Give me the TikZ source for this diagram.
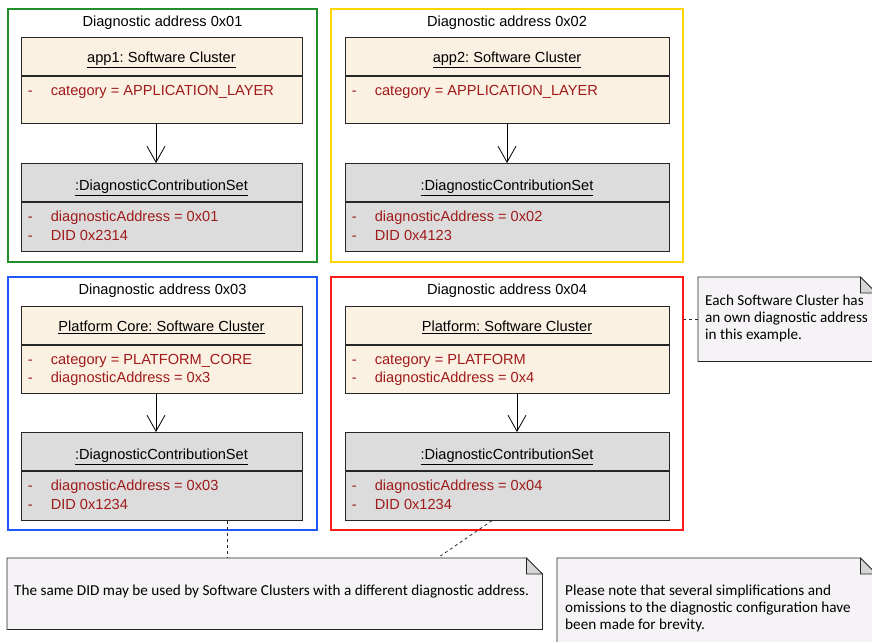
\documentclass[tikz,border=0pt]{standalone}
\usepackage{fontspec}
\setmainfont{Liberation Sans}
\newfontfamily\notefont{Carlito}
\usetikzlibrary{arrows.meta, positioning}
\frenchspacing
\definecolor{clsfill}{HTML}{FBF1E3}
\definecolor{dcsgray}{HTML}{DCDCDC}
\definecolor{attrred}{HTML}{A01A1A}
\definecolor{notebg}{HTML}{F6F3F6}
\definecolor{foldgray}{HTML}{D6D6D6}
\definecolor{grpgreen}{HTML}{22902A}
\definecolor{grpgold}{HTML}{FFD500}
\definecolor{grpblue}{HTML}{1F58FF}
\definecolor{grpred}{HTML}{FF1A1A}
\tikzstyle{every node}=[font=\fontsize{14.6}{18.5}\selectfont]
\tikzstyle{group}=[draw,rectangle,inner sep=0pt,line width=1.1pt]
\tikzstyle{grptitle}=[anchor=north,inner sep=0pt]
\tikzstyle{head}=[draw=black!85,fill=clsfill,rectangle,inner sep=0pt,line width=0.8pt,text height=14pt,text depth=2pt]
\tikzstyle{dcs}=[head,fill=dcsgray,text height=16pt,text depth=0pt]
\tikzstyle{attr}=[anchor=north west,inner sep=0pt,align=left,text=attrred]
\tikzstyle{note}=[rectangle,inner sep=0pt]
\tikzstyle{notetext}=[anchor=west,inner sep=0pt,align=left,font=\notefont\fontsize{15.2}{17}\selectfont]
\tikzstyle{link}=[draw=black!85,dash pattern=on 3pt off 3pt,line width=0.8pt]
\newcommand{\att}[1]{\makebox[23pt][l]{-}#1}
\newcommand{\noteshape}[1]{%
  \draw[fill=notebg,draw=black!85,line width=0.8pt] (#1.north west) -- ([xshift=-16pt]#1.north east)
    -- ([yshift=-16pt]#1.north east) -- (#1.south east) -- (#1.south west) -- cycle;
  \draw[fill=foldgray,draw=black!85,line width=0.8pt] ([xshift=-16pt]#1.north east)
    -- ([yshift=-16pt]#1.north east) -- ([xshift=-16pt,yshift=-16pt]#1.north east) -- cycle;}

\begin{document}
\begin{tikzpicture}[x=1pt,y=-1pt,>={Straight Barb[length=16pt,width=18pt]}]
    \useasboundingbox (0,0) rectangle (872,641);
    % address groups
    \node[group, draw=grpgreen, minimum width=309pt, minimum height=253pt] (g1) at (162.5,135.5) {};
    \node[group, draw=grpgold, minimum width=352pt, minimum height=253pt] (g2) at (507,135.5) {};
    \node[group, draw=grpblue, minimum width=309pt, minimum height=253pt] (g3) at (162.5,403.5) {};
    \node[group, draw=grpred, minimum width=352pt, minimum height=253pt] (g4) at (507,403.5) {};
    \node[grptitle, below=7.5pt of g1.north] (g1t) {Diagnostic address 0x01};
    \node[grptitle, below=7.5pt of g2.north] (g2t) {Diagnostic address 0x02};
    \node[grptitle, below=7.5pt of g3.north] (g3t) {Dinagnostic address 0x03};
    \node[grptitle, below=7.5pt of g4.north] (g4t) {Diagnostic address 0x04};
    % software clusters
    \node[head, minimum width=281pt, minimum height=38pt, anchor=north] (c1) at (161.5,37) {\underline{app1: Software Cluster}};
    \node[head, minimum width=281pt, minimum height=47pt, below=0pt of c1] (c1b) {};
    \node[attr] (c1a) at ([xshift=7pt,yshift=-9pt]c1b.north west) {\att{category = APPLICATION\_LAYER}};
    \node[head, minimum width=324pt, minimum height=38pt, anchor=north] (c2) at (507,37) {\underline{app2: Software Cluster}};
    \node[head, minimum width=324pt, minimum height=47pt, below=0pt of c2] (c2b) {};
    \node[attr] (c2a) at ([xshift=7pt,yshift=-9pt]c2b.north west) {\att{category = APPLICATION\_LAYER}};
    \node[head, minimum width=281pt, minimum height=38pt, anchor=north] (c3) at (161.5,306) {\underline{Platform Core: Software Cluster}};
    \node[head, minimum width=281pt, minimum height=48pt, below=0pt of c3] (c3b) {};
    \node[attr] (c3a) at ([xshift=7pt,yshift=-9pt]c3b.north west) {\att{category = PLATFORM\_CORE}\\ \att{diagnosticAddress = 0x3}};
    \node[head, minimum width=324pt, minimum height=38pt, anchor=north] (c4) at (507,306) {\underline{Platform: Software Cluster}};
    \node[head, minimum width=324pt, minimum height=48pt, below=0pt of c4] (c4b) {};
    \node[attr] (c4a) at ([xshift=7pt,yshift=-9pt]c4b.north west) {\att{category = PLATFORM}\\ \att{diagnosticAddress = 0x4}};
    % contribution sets
    \node[dcs, minimum width=281pt, minimum height=38pt, anchor=north] (d1) at (161.5,163) {\underline{:DiagnosticContributionSet}};
    \node[dcs, minimum width=281pt, minimum height=49pt, below=0pt of d1] (d1b) {};
    \node[attr] (d1a) at ([xshift=7pt,yshift=-9pt]d1b.north west) {\att{diagnosticAddress = 0x01}\\ \att{DID 0x2314}};
    \node[dcs, minimum width=324pt, minimum height=38pt, anchor=north] (d2) at (507,163) {\underline{:DiagnosticContributionSet}};
    \node[dcs, minimum width=324pt, minimum height=49pt, below=0pt of d2] (d2b) {};
    \node[attr] (d2a) at ([xshift=7pt,yshift=-9pt]d2b.north west) {\att{diagnosticAddress = 0x02}\\ \att{DID 0x4123}};
    \node[dcs, minimum width=281pt, minimum height=38pt, anchor=north] (d3) at (161.5,432) {\underline{:DiagnosticContributionSet}};
    \node[dcs, minimum width=281pt, minimum height=49pt, below=0pt of d3] (d3b) {};
    \node[attr] (d3a) at ([xshift=7pt,yshift=-9pt]d3b.north west) {\att{diagnosticAddress = 0x03}\\ \att{DID 0x1234}};
    \node[dcs, minimum width=324pt, minimum height=38pt, anchor=north] (d4) at (507,432) {\underline{:DiagnosticContributionSet}};
    \node[dcs, minimum width=324pt, minimum height=49pt, below=0pt of d4] (d4b) {};
    \node[attr] (d4a) at ([xshift=7pt,yshift=-9pt]d4b.north west) {\att{diagnosticAddress = 0x04}\\ \att{DID 0x1234}};
    \draw[->, line width=0.8pt] ([xshift=-5.5pt]c1b.south) -- ([xshift=-5.5pt]d1.north);
    \draw[->, line width=0.8pt] (c2b.south) -- (d2.north);
    \draw[->, line width=0.8pt] ([xshift=-5.5pt]c3b.south) -- ([xshift=-5.5pt]d3.north);
    \draw[->, line width=0.8pt] ([xshift=10pt]c4b.south) -- ([xshift=10pt]d4.north);
    % notes
    \node[note, minimum width=178pt, minimum height=84pt, anchor=north west] (n1) at (698,277) {};
    \node[note, minimum width=535pt, minimum height=71pt, anchor=north west] (n2) at (7,558) {};
    \node[note, minimum width=319pt, minimum height=96pt, anchor=north west] (n3) at (557,558) {};
    \noteshape{n1}
    \noteshape{n2}
    \noteshape{n3}
    \node[notetext] (n1t) at ([xshift=7pt,yshift=1pt]n1.west) {Each Software Cluster has\\ an own diagnostic address\\ in this example.};
    \node[notetext] (n2t) at ([xshift=7pt,yshift=2.5pt]n2.west) {The same DID may be used by Software Clusters with a different diagnostic address.};
    \node[notetext] (n3t) at ([xshift=8pt,yshift=-2pt]n3.west) {Please note that several simplifications and\\ omissions to the diagnostic configuration have\\ been made for brevity.};
    \draw[link] (n1.west) -- (n1.west -| g4.east);
    \draw[link] ([xshift=65.5pt]d3b.south) -- ([xshift=65.5pt]d3b.south |- n2.north);
    \draw[link] ([xshift=-15pt]d4b.south) -- ([xshift=-102pt,yshift=2pt]n2.north east);
\end{tikzpicture}
\end{document}
